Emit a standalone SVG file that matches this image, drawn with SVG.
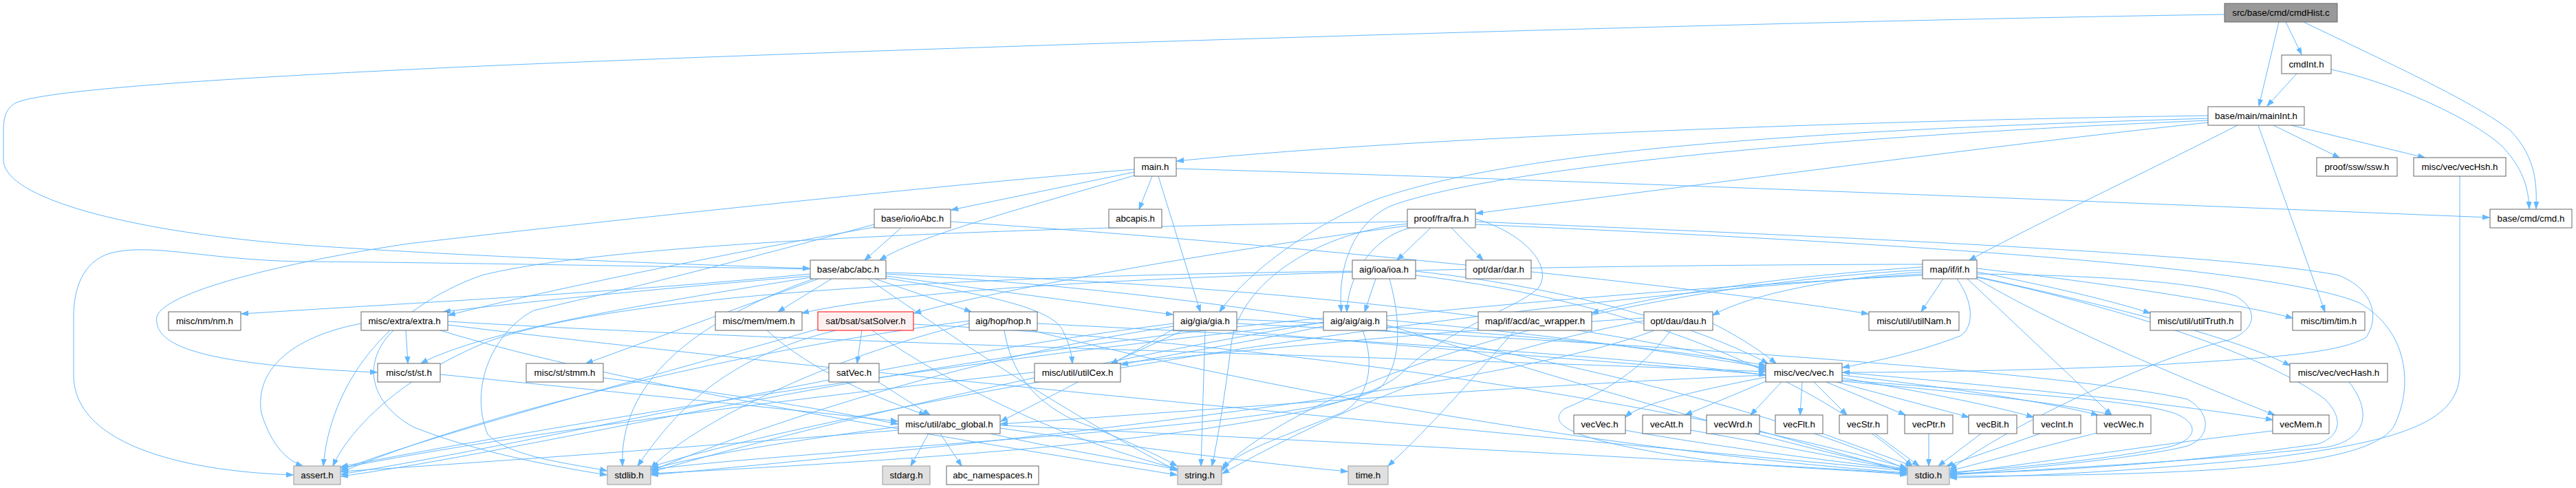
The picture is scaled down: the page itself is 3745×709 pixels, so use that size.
<svg xmlns="http://www.w3.org/2000/svg" width="3745" height="709" viewBox="0 0 3745 709">
<defs>
<marker id="a" markerUnits="userSpaceOnUse" markerWidth="12" markerHeight="9" refX="10" refY="4.5" orient="auto"><path d="M0,1 L10,4.5 L0,8 z" fill="#63b8ff" stroke="#63b8ff"/></marker>
</defs>
<style>
.n rect{fill:#ffffff;stroke:#666666;stroke-width:1}
.n.root rect{fill:#999999;stroke:#666666}
.n.sys rect{fill:#e0e0e0;stroke:#999999}
.n.trunc rect{fill:#fff0f0;stroke:#ff0000}
.n text{font-family:"Liberation Sans",Arial,sans-serif;font-size:13.33px;fill:#000000;text-anchor:middle}
#edges path{fill:none;stroke:#63b8ff;stroke-width:1;marker-end:url(#a)}
</style>
<rect width="3745" height="709" fill="#ffffff"/>
<g id="edges">
<path d="M3234,21 C2600,30 1300,70 700,96 C350,112 60,130 22,150 C8,158 5,172 5,190 L5,232 C5,290 200,338 440,356 C700,374 1000,384 1177,390"/>
<path d="M3313,32 L3284,154"/>
<path d="M3323,32 L3346,79"/>
<path d="M3349,32 C3480,95 3600,150 3650,190 C3688,230 3688,270 3687,303"/>
<path d="M3339,107 L3296,154"/>
<path d="M3389,101 C3480,120 3600,175 3640,215 C3672,250 3676,280 3677,303"/>
<path d="M3305,182 L3401,229"/>
<path d="M3331,182 L3525,229"/>
<path d="M3283,182 L3380,453"/>
<path d="M3210,168 C2700,175 2050,200 1711,234"/>
<path d="M3210,178 C2950,205 2500,265 2146,310"/>
<path d="M3253,182 C3120,250 2950,330 2863,378"/>
<path d="M3210,172 C2600,190 2200,220 2000,290 C1900,330 1810,400 1773,453"/>
<path d="M3210,175 C2600,200 2150,250 2020,300 C1960,330 1945,400 1950,453"/>
<path d="M1649,250 L1383,305"/>
<path d="M1675,256 L1656,304"/>
<path d="M1684,256 L1745,453"/>
<path d="M1710,245 C2300,262 3100,295 3619,316"/>
<path d="M1649,255 C1460,310 1330,345 1279,378"/>
<path d="M1649,246 C1300,275 800,330 594,354 C450,375 240,420 228,460 C222,505 300,530 548,541"/>
<path d="M1310,331 L1257,378"/>
<path d="M1271,330 C1100,360 800,420 652,458"/>
<path d="M1382,322 C1900,356 2500,420 2716,456"/>
<path d="M1271,326 C1200,345 1000,400 776,451 C720,480 680,560 709,631 C740,665 840,675 882,684"/>
<path d="M2080,331 L2031,378"/>
<path d="M2110,331 L2156,378"/>
<path d="M2050,331 C1995,345 1960,400 1958,453"/>
<path d="M2046,328 C1800,360 1450,420 1329,455"/>
<path d="M2145,318 C2220,340 2260,390 2235,420 C2200,450 2100,480 2040,540 C1960,620 1500,660 947,688"/>
<path d="M2145,322 C2700,345 3250,370 3400,400 C3450,420 3460,460 3440,490 C3400,515 3280,521 3120,531 C2900,540 2750,541 2679,541"/>
<path d="M2145,326 C2700,350 3300,385 3430,440 C3500,480 3510,560 3480,620 C3440,680 3200,690 2835,692"/>
<path d="M2046,322 C1500,330 900,350 700,400 C560,450 480,560 470,677"/>
<path d="M2046,325 C1900,340 1800,420 1790,500 C1780,580 1770,640 1762,677"/>
<path d="M1178,398 C900,425 600,440 351,456"/>
<path d="M1178,401 C950,420 750,440 645,453"/>
<path d="M1178,403 C950,440 700,480 612,528"/>
<path d="M1190,405 L852,528"/>
<path d="M1209,405 L1131,453"/>
<path d="M1272,405 L1412,453"/>
<path d="M1288,401 L1705,457"/>
<path d="M1288,404 C1450,430 1530,450 1545,480 C1555,500 1558,515 1559,528"/>
<path d="M1288,396 C1800,410 2350,470 2567,537"/>
<path d="M1178,391 C900,386 600,381 440,380 C300,378 220,352 160,368 C120,380 107,420 107,460 L107,545 C107,640 250,684 426,690"/>
<path d="M1262,405 C1400,500 1550,600 1711,684"/>
<path d="M1288,398 C1900,430 2500,560 2772,682"/>
<path d="M1183,405 C1000,470 900,560 905,677"/>
<path d="M590,480 L593,528"/>
<path d="M525,470 C420,490 370,540 380,600 C395,650 420,670 440,677"/>
<path d="M572,480 C530,520 530,580 600,620 C700,660 820,680 882,690"/>
<path d="M651,467 C1200,500 2100,520 2567,540"/>
<path d="M651,472 C1200,540 2300,640 2772,684"/>
<path d="M640,480 C900,560 1400,640 1711,690"/>
<path d="M640,544 C900,570 1150,595 1305,612"/>
<path d="M877,549 C1050,570 1200,595 1305,616"/>
<path d="M1115,480 C1180,540 1280,580 1346,603"/>
<path d="M1253,480 L1246,528"/>
<path d="M1215,480 C1050,520 980,600 927,677"/>
<path d="M1268,480 C1380,560 1550,640 1711,681"/>
<path d="M1328,471 C1900,500 2500,600 2772,680"/>
<path d="M1189,478 C900,560 600,640 496,683"/>
<path d="M1277,555 L1352,603"/>
<path d="M1508,470 C1900,490 2350,515 2567,545"/>
<path d="M1500,480 C1900,580 2400,660 2772,687"/>
<path d="M1460,480 C1470,540 1500,580 1560,610 C1640,640 1690,665 1711,677"/>
<path d="M1409,470 C1200,520 1000,620 947,680"/>
<path d="M1409,466 C1000,520 650,620 496,686"/>
<path d="M1720,480 L1615,528"/>
<path d="M1798,464 C2200,480 2450,510 2567,531"/>
<path d="M1790,480 C2200,520 2900,560 3070,603"/>
<path d="M1752,480 L1746,677"/>
<path d="M1798,470 C2400,500 3000,540 3180,580 C3215,600 3215,635 3180,648 C3100,668 2900,684 2835,690"/>
<path d="M1706,474 C1400,520 1100,620 947,684"/>
<path d="M1706,470 C1300,520 800,640 496,689"/>
<path d="M1706,478 C1600,540 1500,590 1455,612"/>
<path d="M2016,465 C2300,490 2480,520 2567,534"/>
<path d="M1924,474 C1800,500 1700,515 1630,530"/>
<path d="M1981,480 C2000,530 1990,580 1950,600 C1850,640 1790,660 1777,684"/>
<path d="M2016,472 C2300,560 2600,650 2772,682"/>
<path d="M1924,468 C1500,540 1100,640 947,686"/>
<path d="M1924,462 C1300,520 800,650 496,692"/>
<path d="M2000,405 L1984,453"/>
<path d="M2058,394 C2300,420 2480,480 2570,528"/>
<path d="M2058,400 C2400,440 2650,560 2780,677"/>
<path d="M2020,405 C2035,460 2040,520 2010,560 C1950,620 1200,650 947,682"/>
<path d="M1966,394 C1500,400 900,420 700,500 C560,560 500,640 484,677"/>
<path d="M2202,480 C2150,540 2080,620 2018,677"/>
<path d="M2490,470 C2530,490 2560,510 2582,528"/>
<path d="M2429,480 C2393,527 2353,561 2274,594 C2250,615 2270,640 2500,671 C2600,680 2720,684 2772,690"/>
<path d="M2405,480 C2200,560 1500,640 947,690"/>
<path d="M2390,466 C2100,520 1900,620 1777,688"/>
<path d="M2390,462 C1800,500 900,600 496,680"/>
<path d="M2795,388 C2600,400 2400,430 2314,455"/>
<path d="M2795,395 C2650,405 2540,430 2490,458"/>
<path d="M2825,405 L2793,453"/>
<path d="M2845,405 C2870,440 2870,475 2850,488 C2780,515 2710,528 2679,534"/>
<path d="M2860,405 L3070,603"/>
<path d="M2874,390 C3050,410 3250,440 3333,462"/>
<path d="M2874,395 C3000,420 3080,440 3126,455"/>
<path d="M2874,402 C3050,440 3250,490 3329,531"/>
<path d="M2874,405 C3000,480 3200,560 3307,603"/>
<path d="M2795,384 C2200,385 1400,400 1166,455"/>
<path d="M2874,398 C3050,400 3200,410 3250,430 C3285,450 3280,480 3240,494 C3150,515 2950,600 2835,682"/>
<path d="M2874,403 C3100,450 3300,520 3380,580 C3410,610 3400,635 3370,645 C3200,670 3000,685 2835,688"/>
<path d="M2795,392 C2300,420 1900,560 1777,680"/>
<path d="M2795,398 C2000,450 1200,600 947,678"/>
<path d="M2795,400 C1800,450 900,600 496,678"/>
<path d="M2567,548 C2450,570 2380,590 2363,606"/>
<path d="M2570,553 L2450,603"/>
<path d="M2590,555 L2545,603"/>
<path d="M2620,555 L2617,603"/>
<path d="M2637,555 L2685,603"/>
<path d="M2655,555 L2770,603"/>
<path d="M2670,555 L2862,606"/>
<path d="M2678,549 C2800,570 2900,590 2956,606"/>
<path d="M2678,545 C2850,565 2980,585 3050,603"/>
<path d="M2678,541 C2900,560 3150,585 3304,610"/>
<path d="M2678,552 C2900,570 3100,580 3160,600 C3200,615 3195,640 3150,650 C3050,670 2900,682 2835,686"/>
<path d="M2567,545 C2200,560 1700,600 1455,616"/>
<path d="M2362,625 C2500,650 2700,675 2772,682"/>
<path d="M2458,625 C2600,650 2700,670 2772,684"/>
<path d="M2558,626 L2772,686"/>
<path d="M2650,630 L2780,677"/>
<path d="M2726,630 L2790,677"/>
<path d="M2804,630 L2804,677"/>
<path d="M2880,630 L2818,677"/>
<path d="M2966,630 L2830,677"/>
<path d="M3052,628 L2835,684"/>
<path d="M3304,626 C3100,650 2950,675 2835,688"/>
<path d="M3415,555 C3450,600 3440,640 3380,650 C3200,670 3000,680 2835,690"/>
<path d="M3576,256 L3576,540 C3576,610 3500,640 3300,665 C3100,685 2950,692 2835,694"/>
<path d="M1350,630 L1324,677"/>
<path d="M1367,630 L1398,677"/>
<path d="M1440,630 C1550,655 1650,670 1711,682"/>
<path d="M1454,622 C1650,650 1850,675 1959,685"/>
<path d="M1454,618 C1900,640 2500,670 2772,688"/>
<path d="M1306,620 C1150,640 1000,665 947,682"/>
<path d="M1306,625 C1000,650 700,672 496,685"/>
</g>
<g id="n_cmdHist" class="n root"><rect x="3234" y="5" width="164" height="27"/><text x="3316" y="23">src/base/cmd/cmdHist.c</text></g>
<g id="n_cmdInt" class="n"><rect x="3317" y="80" width="72" height="27"/><text x="3353" y="98">cmdInt.h</text></g>
<g id="n_mainInt" class="n"><rect x="3210" y="155" width="140" height="27"/><text x="3280" y="173">base/main/mainInt.h</text></g>
<g id="n_main" class="n"><rect x="1649" y="229" width="61" height="27"/><text x="1679.5" y="247">main.h</text></g>
<g id="n_ssw" class="n"><rect x="3368" y="229" width="117" height="27"/><text x="3426.5" y="247">proof/ssw/ssw.h</text></g>
<g id="n_vecHsh" class="n"><rect x="3509" y="229" width="134" height="27"/><text x="3576" y="247">misc/vec/vecHsh.h</text></g>
<g id="n_ioAbc" class="n"><rect x="1271" y="304" width="111" height="27"/><text x="1326.5" y="322">base/io/ioAbc.h</text></g>
<g id="n_abcapis" class="n"><rect x="1612" y="304" width="77" height="27"/><text x="1650.5" y="322">abcapis.h</text></g>
<g id="n_fra" class="n"><rect x="2046" y="304" width="99" height="27"/><text x="2095.5" y="322">proof/fra/fra.h</text></g>
<g id="n_cmd" class="n"><rect x="3620" y="304" width="119" height="27"/><text x="3679.5" y="322">base/cmd/cmd.h</text></g>
<g id="n_abc" class="n"><rect x="1178" y="378" width="110" height="27"/><text x="1233" y="396">base/abc/abc.h</text></g>
<g id="n_ioa" class="n"><rect x="1966" y="378" width="92" height="27"/><text x="2012" y="396">aig/ioa/ioa.h</text></g>
<g id="n_dar" class="n"><rect x="2131" y="378" width="95" height="27"/><text x="2178.5" y="396">opt/dar/dar.h</text></g>
<g id="n_if" class="n"><rect x="2795" y="378" width="79" height="27"/><text x="2834.5" y="396">map/if/if.h</text></g>
<g id="n_nm" class="n"><rect x="245" y="453" width="105" height="27"/><text x="297.5" y="471">misc/nm/nm.h</text></g>
<g id="n_extra" class="n"><rect x="525" y="453" width="126" height="27"/><text x="588" y="471">misc/extra/extra.h</text></g>
<g id="n_mem" class="n"><rect x="1040" y="453" width="126" height="27"/><text x="1103" y="471">misc/mem/mem.h</text></g>
<g id="n_satSolver" class="n trunc"><rect x="1189" y="453" width="139" height="27"/><text x="1258.5" y="471">sat/bsat/satSolver.h</text></g>
<g id="n_hop" class="n"><rect x="1409" y="453" width="99" height="27"/><text x="1458.5" y="471">aig/hop/hop.h</text></g>
<g id="n_gia" class="n"><rect x="1706" y="453" width="92" height="27"/><text x="1752" y="471">aig/gia/gia.h</text></g>
<g id="n_aig" class="n"><rect x="1924" y="453" width="92" height="27"/><text x="1970" y="471">aig/aig/aig.h</text></g>
<g id="n_acw" class="n"><rect x="2149" y="453" width="165" height="27"/><text x="2231.5" y="471">map/if/acd/ac_wrapper.h</text></g>
<g id="n_dau" class="n"><rect x="2390" y="453" width="100" height="27"/><text x="2440" y="471">opt/dau/dau.h</text></g>
<g id="n_utilNam" class="n"><rect x="2717" y="453" width="131" height="27"/><text x="2782.5" y="471">misc/util/utilNam.h</text></g>
<g id="n_utilTruth" class="n"><rect x="3126" y="453" width="132" height="27"/><text x="3192" y="471">misc/util/utilTruth.h</text></g>
<g id="n_tim" class="n"><rect x="3333" y="453" width="105" height="27"/><text x="3385.5" y="471">misc/tim/tim.h</text></g>
<g id="n_st" class="n"><rect x="549" y="528" width="91" height="27"/><text x="594.5" y="546">misc/st/st.h</text></g>
<g id="n_stmm" class="n"><rect x="765" y="528" width="112" height="27"/><text x="821" y="546">misc/st/stmm.h</text></g>
<g id="n_satVec" class="n"><rect x="1205" y="528" width="73" height="27"/><text x="1241.5" y="546">satVec.h</text></g>
<g id="n_utilCex" class="n"><rect x="1504" y="528" width="125" height="27"/><text x="1566.5" y="546">misc/util/utilCex.h</text></g>
<g id="n_vec" class="n"><rect x="2567" y="528" width="111" height="27"/><text x="2622.5" y="546">misc/vec/vec.h</text></g>
<g id="n_vecHash" class="n"><rect x="3329" y="528" width="142" height="27"/><text x="3400" y="546">misc/vec/vecHash.h</text></g>
<g id="n_abcg" class="n"><rect x="1306" y="603" width="148" height="27"/><text x="1380" y="621">misc/util/abc_global.h</text></g>
<g id="n_vecVec" class="n"><rect x="2288" y="603" width="75" height="27"/><text x="2325.5" y="621">vecVec.h</text></g>
<g id="n_vecAtt" class="n"><rect x="2388" y="603" width="70" height="27"/><text x="2423" y="621">vecAtt.h</text></g>
<g id="n_vecWrd" class="n"><rect x="2481" y="603" width="77" height="27"/><text x="2519.5" y="621">vecWrd.h</text></g>
<g id="n_vecFlt" class="n"><rect x="2581" y="603" width="69" height="27"/><text x="2615.5" y="621">vecFlt.h</text></g>
<g id="n_vecStr" class="n"><rect x="2674" y="603" width="70" height="27"/><text x="2709" y="621">vecStr.h</text></g>
<g id="n_vecPtr" class="n"><rect x="2769" y="603" width="70" height="27"/><text x="2804" y="621">vecPtr.h</text></g>
<g id="n_vecBit" class="n"><rect x="2862" y="603" width="70" height="27"/><text x="2897" y="621">vecBit.h</text></g>
<g id="n_vecInt" class="n"><rect x="2956" y="603" width="69" height="27"/><text x="2990.5" y="621">vecInt.h</text></g>
<g id="n_vecWec" class="n"><rect x="3048" y="603" width="79" height="27"/><text x="3087.5" y="621">vecWec.h</text></g>
<g id="n_vecMem" class="n"><rect x="3304" y="603" width="82" height="27"/><text x="3345" y="621">vecMem.h</text></g>
<g id="n_assert" class="n sys"><rect x="427" y="677" width="68" height="27"/><text x="461" y="695">assert.h</text></g>
<g id="n_stdlib" class="n sys"><rect x="883" y="677" width="63" height="27"/><text x="914.5" y="695">stdlib.h</text></g>
<g id="n_stdarg" class="n sys"><rect x="1283" y="677" width="69" height="27"/><text x="1317.5" y="695">stdarg.h</text></g>
<g id="n_abcns" class="n"><rect x="1376" y="677" width="134" height="27"/><text x="1443" y="695">abc_namespaces.h</text></g>
<g id="n_string" class="n sys"><rect x="1712" y="677" width="64" height="27"/><text x="1744" y="695">string.h</text></g>
<g id="n_time" class="n sys"><rect x="1960" y="677" width="58" height="27"/><text x="1989" y="695">time.h</text></g>
<g id="n_stdio" class="n sys"><rect x="2773" y="677" width="61" height="27"/><text x="2803.5" y="695">stdio.h</text></g>
</svg>
